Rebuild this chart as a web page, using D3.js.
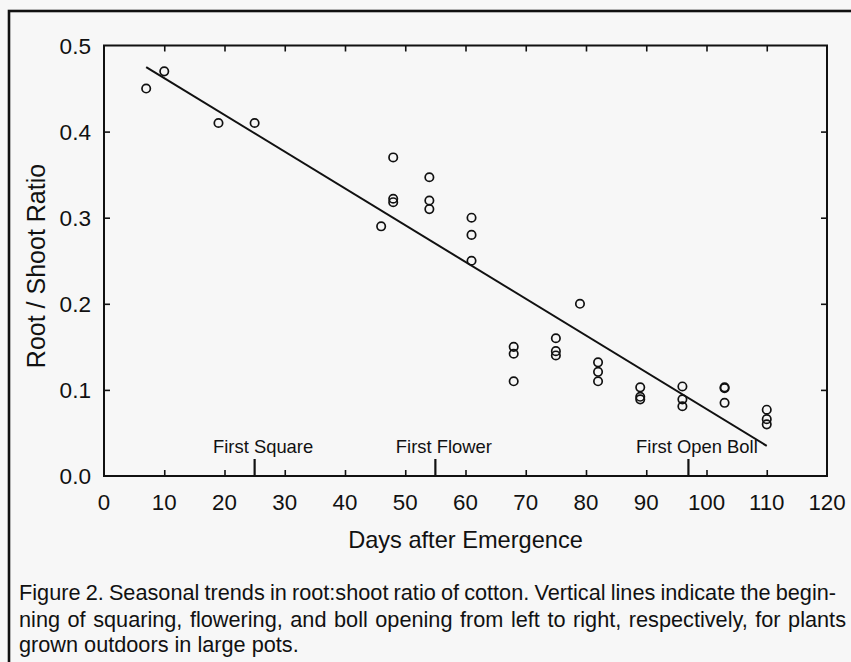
<!DOCTYPE html>
<html>
<head>
<meta charset="utf-8">
<script src="https://cdn.jsdelivr.net/npm/d3@7"></script>
<style>
  html, body { margin: 0; padding: 0; background: #f7f7f7; }
  svg { display: block; }
  text { font-family: "Liberation Sans", Arial, Helvetica, sans-serif; fill: #111; }
</style>
</head>
<body>
<svg id="chart" width="851" height="662"></svg>
<script>
// ---- data ----
const days   = [7, 10, 19, 25, 46, 48, 48, 48, 54, 54, 54, 61, 61, 61, 68, 68, 68, 75, 75, 75, 79, 82, 82, 82, 89, 89, 89, 96, 96, 96, 103, 103, 103, 110, 110, 110];
const ratios = [0.45, 0.47, 0.41, 0.41, 0.29, 0.37, 0.322, 0.318, 0.347, 0.32, 0.31, 0.30, 0.28, 0.25, 0.15, 0.142, 0.11, 0.16, 0.145, 0.14, 0.20, 0.132, 0.121, 0.11, 0.103, 0.092, 0.089, 0.104, 0.089, 0.081, 0.103, 0.102, 0.085, 0.077, 0.066, 0.06];
const fitDays   = [7, 110];
const fitRatios = [0.475, 0.035];
const eventDays   = [25, 55, 97];
const eventLabels = ["First Square", "First Flower", "First Open Boll"];
const xTicks = [0, 10, 20, 30, 40, 50, 60, 70, 80, 90, 100, 110, 120];
const yTicks = [0.0, 0.1, 0.2, 0.3, 0.4, 0.5];
const xTitle = "Days after Emergence";
const yTitle = "Root / Shoot Ratio";
const captionLines = [
  "Figure 2. Seasonal trends in root:shoot ratio of cotton. Vertical lines indicate the begin-",
  "ning of squaring, flowering, and boll opening from left to right, respectively, for plants",
  "grown outdoors in large pots."
];

(function () {
// ---- layout ----
const svg = d3.select("#chart");
const x = d3.scaleLinear().domain([0, 120]).range([104, 827]);
const y = d3.scaleLinear().domain([0, 0.5]).range([476, 45.5]);
const ink = "#111";

// outer frame (top + left visible, right/bottom cut off)
svg.append("rect")
  .attr("x", 9).attr("y", 11).attr("width", 900).attr("height", 700)
  .attr("fill", "#f7f7f7").attr("stroke", ink).attr("stroke-width", 2.6);

// plot box
svg.append("rect")
  .attr("x", x(0)).attr("y", y(0.5))
  .attr("width", x(120) - x(0)).attr("height", y(0) - y(0.5))
  .attr("fill", "none").attr("stroke", ink).attr("stroke-width", 2);

// axes (inward ticks)
const tl = 6;
const inner = xTicks.filter(t => t > 0 && t < 120);
const innerY = yTicks.filter(t => t > 0 && t < 0.5);
const gBottom = svg.append("g").attr("transform", `translate(0,${y(0)})`)
  .call(d3.axisBottom(x).tickValues(inner).tickSize(-tl).tickFormat(""));
const gTop = svg.append("g").attr("transform", `translate(0,${y(0.5)})`)
  .call(d3.axisTop(x).tickValues(inner).tickSize(-tl).tickFormat(""));
const gLeft = svg.append("g").attr("transform", `translate(${x(0)},0)`)
  .call(d3.axisLeft(y).tickValues(innerY).tickSize(-tl).tickFormat(""));
const gRight = svg.append("g").attr("transform", `translate(${x(120)},0)`)
  .call(d3.axisRight(y).tickValues(innerY).tickSize(-tl).tickFormat(""));
[gBottom, gTop, gLeft, gRight].forEach(g => {
  g.select(".domain").remove();
  g.selectAll(".tick line").attr("stroke", ink).attr("stroke-width", 1.6);
});

// tick labels
svg.append("g").selectAll("text").data(xTicks).join("text")
  .attr("x", d => x(d)).attr("y", 510)
  .attr("text-anchor", "middle").attr("font-size", 22.3)
  .text(d => d);
svg.append("g").selectAll("text").data(yTicks).join("text")
  .attr("x", 91).attr("y", d => y(d) + 8)
  .attr("text-anchor", "end").attr("font-size", 22.6)
  .text(d => d3.format(".1f")(d));

// axis titles
svg.append("text").attr("x", (x(0) + x(120)) / 2).attr("y", 548)
  .attr("text-anchor", "middle").attr("font-size", 23.6).text(xTitle);
svg.append("text").attr("transform", "translate(45,266) rotate(-90)")
  .attr("text-anchor", "middle").attr("font-size", 25).text(yTitle);

// event markers
svg.append("g").selectAll("line").data(eventDays).join("line")
  .attr("x1", d => x(d)).attr("x2", d => x(d))
  .attr("y1", y(0)).attr("y2", y(0) - 17)
  .attr("stroke", ink).attr("stroke-width", 2.2);
svg.append("g").selectAll("text").data(eventDays).join("text")
  .attr("x", d => x(d) + 8.5).attr("y", 452.5)
  .attr("text-anchor", "middle").attr("font-size", 18.4)
  .text((d, i) => eventLabels[i]);

// regression line
svg.append("path")
  .datum(fitDays.map((d, i) => [d, fitRatios[i]]))
  .attr("d", d3.line().x(d => x(d[0])).y(d => y(d[1])))
  .attr("fill", "none").attr("stroke", ink).attr("stroke-width", 2);

// points
svg.append("g").selectAll("circle").data(days).join("circle")
  .attr("cx", d => x(d)).attr("cy", (d, i) => y(ratios[i]))
  .attr("r", 4.2).attr("fill", "none").attr("stroke", ink).attr("stroke-width", 1.7);

// caption (justified lines)
const capLeft = 19;
const capRights = [836, 846, null];
const capBase = [600, 626.5, 652];
captionLines.forEach((line, i) => {
  const t = svg.append("text").attr("x", capLeft).attr("y", capBase[i])
    .attr("font-size", 21.7).text(line);
  if (capRights[i] !== null) {
    const w = t.node().getComputedTextLength();
    const spaces = (line.match(/ /g) || []).length;
    const ws = (capRights[i] - capLeft - w) / spaces;
    t.attr("word-spacing", ws);
  }
});
})();
</script>
</body>
</html>
